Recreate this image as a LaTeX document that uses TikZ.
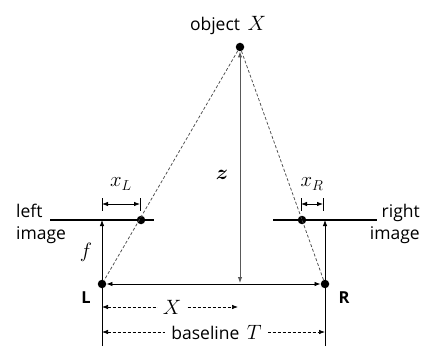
\documentclass[tikz,border=0pt]{standalone}
\usepackage{fontspec}
\usepackage{amsmath,bm}
\setmainfont{Open Sans}
\usetikzlibrary{arrows.meta}
\begin{document}
\begin{tikzpicture}[x=1pt,y=-1pt,
  every node/.style={font=\fontsize{17.5}{21}\selectfont, inner sep=1pt},
  dot/.style={circle,fill=black,minimum size=8.5pt,inner sep=0pt},
  tip/.style={-{Latex[length=6pt,width=4.5pt]}},
  dtip/.style={{Latex[length=6pt,width=4.5pt]}-{Latex[length=6pt,width=4.5pt]}},
  imgline/.style={line width=1.6pt},
  ray/.style={dashed,gray!60!black,line width=0.75pt,dash pattern=on 3pt off 2pt},
  dim/.style={dashed,line width=0.7pt,dash pattern=on 3pt off 2pt},
  thin line/.style={line width=0.8pt},
  mlbl/.style={font=\fontsize{19.5}{22}\selectfont},
  lbl/.style={font=\fontsize{16.5}{18}\selectfont\bfseries}]
\useasboundingbox (0,0) rectangle (422,347);
% points
\node[dot] (O) at (240,47) {};
\node[dot] (L) at (102,284) {};
\node[dot] (R) at (325,284) {};
\node[dot] (PL) at (141,220) {};
\node[dot] (PR) at (302,220) {};
\coordinate (LT) at (102,220);
\coordinate (RT) at (325,220);
\coordinate (LB) at (102,346);
\coordinate (RB) at (325,346);
\coordinate (ZB) at (240,283);
\coordinate (IL1) at (50,220);
\coordinate (IL2) at (154,220);
\coordinate (IR1) at (273,220);
\coordinate (IR2) at (377,220);
% image planes
\draw[imgline] (IL1) -- (IL2);
\draw[imgline] (IR1) -- (IR2);
% rays
\draw[ray] (O) -- (L);
\draw[ray] (O) -- (R);
% verticals
\draw[thin line] (LB) -- (L.center);
\draw[thin line,tip] (L) -- (LT);
\draw[thin line] (RB) -- (R.center);
\draw[thin line,tip] (R) -- (RT);
% baseline
\draw[thin line,dtip] (L) -- (R);
% depth z
\draw[gray!70!black,line width=0.9pt,dtip] (O) -- (ZB);
\node[mlbl] (zlab) at (222,175) {$\bm{z}$};
% x_L, x_R
\coordinate (xl1) at (102,204);
\coordinate (xl2) at (140,204);
\draw[thin line] (102,198) -- (102,211);
\draw[thin line] (140,198) -- (140,211);
\draw[thin line,dtip] (xl1) -- (xl2);
\node[mlbl] (xL) at (121,184) {$x_L$};
\coordinate (xr1) at (301,204);
\coordinate (xr2) at (323,204);
\draw[thin line] (301,198) -- (301,211);
\draw[thin line] (323,198) -- (323,211);
\draw[thin line,dtip] (xr1) -- (xr2);
\node[mlbl] (xR) at (312,184) {$x_R$};
% X and T dimension arrows
\coordinate (x1) at (102,307);
\coordinate (x2) at (238,307);
\draw[dim,dtip] (x1) -- node[mlbl,fill=white,inner xsep=5pt,xshift=2pt] (Xlab) {$X$} (x2);
\coordinate (t1) at (102,332);
\coordinate (t2) at (325,332);
\draw[dim,dtip] (t1) -- node[fill=white,inner xsep=6pt,xshift=3pt] (Tlab) {baseline\, {\fontsize{19.5}{22}\selectfont$T$}} (t2);
% labels
\node[anchor=base] (objlab) at (228,31) {object\, {\fontsize{19.5}{22}\selectfont$X$}};
\node[mlbl] (flab) at (86,252) {$f$};
\node[lbl,anchor=base] (Llab) at (86,303) {L};
\node[lbl,anchor=base] (Rlab) at (344,303) {R};
\node[anchor=base west] (left1) at (15,217) {left};
\node[anchor=base west] (left2) at (15,239) {image};
\node[anchor=base east] (right1) at (421,217) {right};
\node[anchor=base east] (right2) at (421,239) {image};
\end{tikzpicture}
\end{document}
